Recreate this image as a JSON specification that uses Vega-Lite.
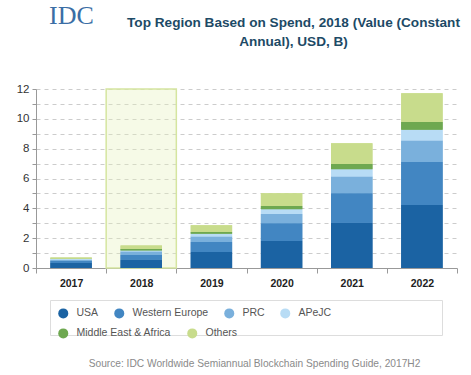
{
  "$schema": "https://vega.github.io/schema/vega-lite/v6.json",
  "width": 421,
  "height": 179,
  "autosize": {"type": "none"},
  "padding": {"left": 36, "top": 89, "right": 14, "bottom": 107},
  "background": "white",
  "title": {
    "text": ["Top Region Based on Spend, 2018 (Value (Constant", "Annual), USD, B)"],
    "font": "Liberation Sans",
    "fontSize": 13.6,
    "fontWeight": "bold",
    "color": "#1d4a66",
    "anchor": "middle",
    "frame": "group",
    "dx": 47,
    "offset": -47,
    "lineHeight": 19
  },
  "config": {
    "view": {"stroke": null},
    "font": "Liberation Sans"
  },
  "data": {
    "values": [
      {"year": "2017", "region": "USA", "ord": 1, "value": 0.33},
      {"year": "2017", "region": "Western Europe", "ord": 2, "value": 0.16},
      {"year": "2017", "region": "PRC", "ord": 3, "value": 0.07},
      {"year": "2017", "region": "APeJC", "ord": 4, "value": 0.04},
      {"year": "2017", "region": "Middle East & Africa", "ord": 5, "value": 0.02},
      {"year": "2017", "region": "Others", "ord": 6, "value": 0.09},
      {"year": "2018", "region": "USA", "ord": 1, "value": 0.56},
      {"year": "2018", "region": "Western Europe", "ord": 2, "value": 0.33},
      {"year": "2018", "region": "PRC", "ord": 3, "value": 0.22},
      {"year": "2018", "region": "APeJC", "ord": 4, "value": 0.07},
      {"year": "2018", "region": "Middle East & Africa", "ord": 5, "value": 0.09},
      {"year": "2018", "region": "Others", "ord": 6, "value": 0.24},
      {"year": "2019", "region": "USA", "ord": 1, "value": 1.07},
      {"year": "2019", "region": "Western Europe", "ord": 2, "value": 0.67},
      {"year": "2019", "region": "PRC", "ord": 3, "value": 0.38},
      {"year": "2019", "region": "APeJC", "ord": 4, "value": 0.18},
      {"year": "2019", "region": "Middle East & Africa", "ord": 5, "value": 0.11},
      {"year": "2019", "region": "Others", "ord": 6, "value": 0.45},
      {"year": "2020", "region": "USA", "ord": 1, "value": 1.81},
      {"year": "2020", "region": "Western Europe", "ord": 2, "value": 1.19},
      {"year": "2020", "region": "PRC", "ord": 3, "value": 0.62},
      {"year": "2020", "region": "APeJC", "ord": 4, "value": 0.32},
      {"year": "2020", "region": "Middle East & Africa", "ord": 5, "value": 0.22},
      {"year": "2020", "region": "Others", "ord": 6, "value": 0.85},
      {"year": "2021", "region": "USA", "ord": 1, "value": 3.04},
      {"year": "2021", "region": "Western Europe", "ord": 2, "value": 1.97},
      {"year": "2021", "region": "PRC", "ord": 3, "value": 1.12},
      {"year": "2021", "region": "APeJC", "ord": 4, "value": 0.49},
      {"year": "2021", "region": "Middle East & Africa", "ord": 5, "value": 0.36},
      {"year": "2021", "region": "Others", "ord": 6, "value": 1.39},
      {"year": "2022", "region": "USA", "ord": 1, "value": 4.23},
      {"year": "2022", "region": "Western Europe", "ord": 2, "value": 2.90},
      {"year": "2022", "region": "PRC", "ord": 3, "value": 1.41},
      {"year": "2022", "region": "APeJC", "ord": 4, "value": 0.72},
      {"year": "2022", "region": "Middle East & Africa", "ord": 5, "value": 0.52},
      {"year": "2022", "region": "Others", "ord": 6, "value": 1.94}
    ]
  },
  "encoding": {
    "x": {
      "field": "year",
      "type": "nominal",
      "scale": {"domain": ["2017", "2018", "2019", "2020", "2021", "2022"], "paddingInner": 0, "paddingOuter": 0},
      "axis": {
        "title": "Source: IDC Worldwide Semiannual Blockchain Spending Guide, 2017H2",
        "titleX": 218,
        "titleY": 98,
        "titleAlign": "center",
        "titleBaseline": "alphabetic",
        "titleFontSize": 10.2,
        "titleFontWeight": "normal",
        "titleColor": "#8a8a8a",
        "titleLimit": 500,
        "labelAngle": 0,
        "labelFontSize": 10.5,
        "labelFontWeight": "bold",
        "labelColor": "#222222",
        "labelPadding": 5,
        "tickBand": "extent",
        "tickSize": 5,
        "tickColor": "#999999",
        "domainColor": "#999999"
      }
    },
    "y": {
      "field": "value",
      "type": "quantitative",
      "scale": {"domain": [0, 12], "nice": false},
      "axis": {
        "title": "IDC",
        "titleAngle": 0,
        "titleX": 35,
        "titleY": -66,
        "titleAlign": "center",
        "titleBaseline": "alphabetic",
        "titleFont": "Liberation Serif",
        "titleFontSize": 26,
        "titleFontWeight": "normal",
        "titleColor": "#3b6ea5",
        "values": [0, 1, 2, 3, 4, 5, 6, 7, 8, 9, 10, 11, 12],
        "labelExpr": "datum.value % 2 == 0 ? datum.label : ''",
        "labelFontSize": 11.5,
        "labelColor": "#333333",
        "labelPadding": 3,
        "tickSize": 4,
        "tickColor": "#999999",
        "domainColor": "#999999",
        "gridColor": "#cccccc",
        "gridDash": [4, 4]
      }
    }
  },
  "layer": [
    {
      "data": {"values": [{"year": "2018", "value": 0, "top": 12}]},
      "mark": {"type": "bar", "width": {"band": 1}, "fill": "#e6f0bb", "fillOpacity": 0.35, "stroke": "#d5e5a0", "strokeWidth": 1.5},
      "encoding": {
        "y": {"field": "value", "type": "quantitative", "stack": null},
        "y2": {"field": "top"}
      }
    },
    {
      "mark": {"type": "bar", "width": {"band": 0.59}},
      "encoding": {
        "color": {
          "field": "region",
          "type": "nominal",
          "scale": {
            "domain": ["USA", "Western Europe", "PRC", "APeJC", "Middle East & Africa", "Others"],
            "range": ["#1b63a3", "#4286c2", "#7ab0dc", "#b8dcf5", "#6ea850", "#c8dc8c"]
          },
          "legend": {
            "values": ["USA", "Western Europe", "PRC", "APeJC"],
            "title": ["⠀⠀⠀⠀⠀⠀⠀⠀⠀⠀⠀⠀", "⠀⠀⠀⠀⠀⠀⠀⠀⠀⠀⠀⠀"],
            "titleOrient": "right",
            "titleFont": "DejaVu Sans Mono",
            "titleFontSize": 11,
            "titleLineHeight": 18,
            "titlePadding": 7,
            "titleLimit": 1000,
            "orient": "none",
            "legendX": 14,
            "legendY": 211,
            "direction": "horizontal",
            "strokeColor": "#dddddd",
            "fillColor": "white",
            "padding": 8,
            "symbolType": "circle",
            "symbolSize": 100,
            "symbolStrokeWidth": 0,
            "labelFontSize": 10.5,
            "labelColor": "#555555",
            "labelOffset": 8,
            "columnPadding": 15
          }
        },
        "order": {"field": "ord", "type": "quantitative", "sort": "ascending"}
      }
    },
    {
      "mark": {"type": "bar", "width": {"band": 0.59}},
      "encoding": {
        "fill": {
          "field": "region",
          "type": "nominal",
          "scale": {
            "domain": ["Middle East & Africa", "Others", "USA", "Western Europe", "PRC", "APeJC"],
            "range": ["#6ea850", "#c8dc8c", "#1b63a3", "#4286c2", "#7ab0dc", "#b8dcf5"]
          },
          "legend": {
            "values": ["Middle East & Africa", "Others"],
            "title": null,
            "orient": "none",
            "legendX": 14,
            "legendY": 231,
            "direction": "horizontal",
            "padding": 8,
            "symbolType": "circle",
            "symbolSize": 100,
            "symbolStrokeWidth": 0,
            "labelFontSize": 10.5,
            "labelColor": "#555555",
            "labelOffset": 8,
            "columnPadding": 15
          }
        },
        "order": {"field": "ord", "type": "quantitative", "sort": "ascending"}
      }
    }
  ]
}
